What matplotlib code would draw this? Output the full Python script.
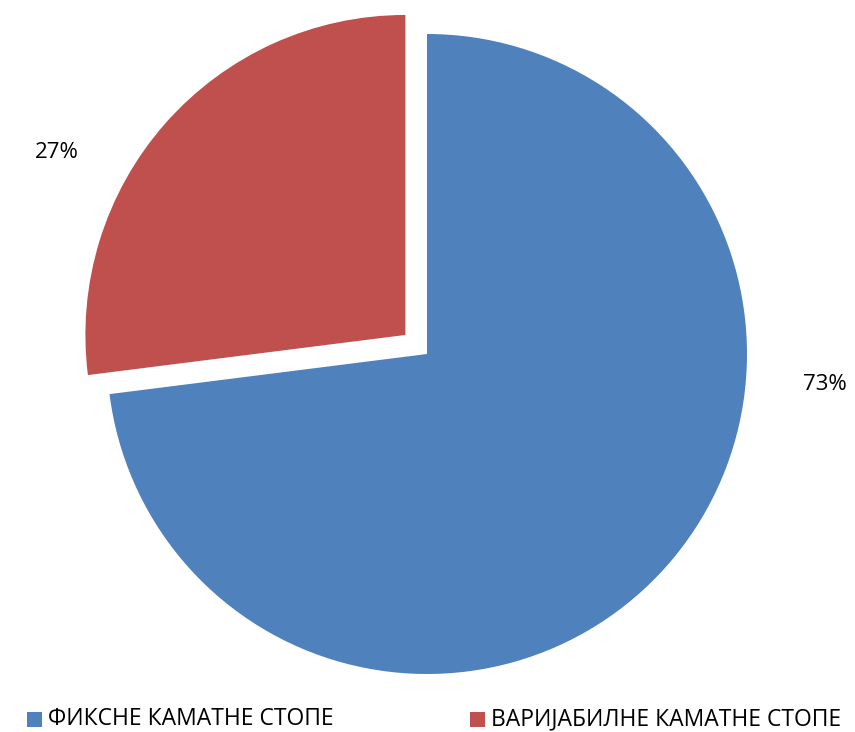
import matplotlib
matplotlib.use("Agg")
import matplotlib.pyplot as plt
from matplotlib.patches import Rectangle

categories = ["ФИКСНЕ КАМАТНЕ СТОПЕ", "ВАРИЈАБИЛНЕ КАМАТНЕ СТОПЕ"]
values = [73, 27]
pct_labels = ["73%", "27%"]
colors = ["#4F81BD", "#C0504D"]

W, H = 855, 732
fig = plt.figure(figsize=(W / 100, H / 100), dpi=100)
ax = fig.add_axes([0, 0, 1, 1])

cx, cy, R = 427, 354, 320  # pixel center (from top) and radius
ax.pie(values, colors=colors, startangle=90, counterclock=False,
       explode=[0, 0.09], radius=1, wedgeprops=dict(linewidth=0))
ax.set_aspect("auto")
ax.set_xlim(-cx / R, (W - cx) / R)
ax.set_ylim(-(H - cy) / R, cy / R)
ax.axis("off")

def px(x, y):
    return (x - cx) / R, (cy - y) / R

font = ["Open Sans", "DejaVu Sans"]
label_pos = [(825, 385), (57, 152)]
for lab, (x, y) in zip(pct_labels, label_pos):
    ax.text(*px(x, y), lab, ha="center", va="center", fontsize=16,
            family=font, color="#000000")

# legend
leg_x = [27, 470]
for i, (cat, col) in enumerate(zip(categories, colors)):
    x0 = leg_x[i]
    fig.patches.append(Rectangle((x0 / W, (H - 727) / H), 15 / W, 15 / H,
                                 transform=fig.transFigure, color=col,
                                 linewidth=0))
    fig.text((x0 + 21) / W, (H - 725) / H, cat, ha="left", va="baseline",
             fontsize=16.5, family=font, color="#000000")

fig.savefig("out.png", dpi=100)
